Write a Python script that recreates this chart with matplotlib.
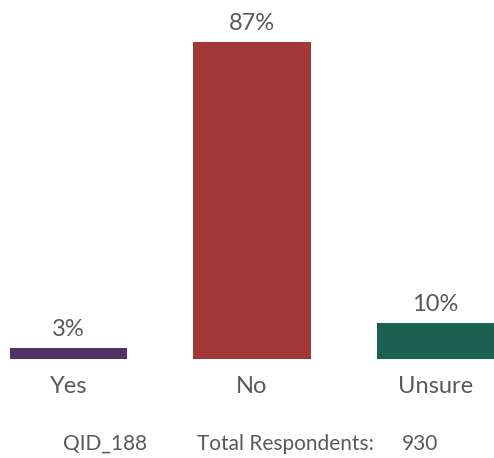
import matplotlib
matplotlib.use("Agg")
import matplotlib.pyplot as plt

categories = ["Yes", "No", "Unsure"]
values = [3, 87, 10]
colors = ["#533366", "#A33838", "#1A614F"]
label_texts = ["3%", "87%", "10%"]
qid = "QID_188"
total_label = "Total Respondents:"
total_n = "930"

W, H = 494, 458
fig = plt.figure(figsize=(W / 100, H / 100), dpi=100)
plt.rcParams['font.family'] = ['Lato', 'DejaVu Sans']
grey = "#595959"

bottom_px = 359
ax = fig.add_axes([0, 1 - bottom_px / H, 1, bottom_px / H])
spacing = 183.5
c0 = 68.5
ax.set_xlim(-c0 / spacing, (W - c0) / spacing)
ax.set_ylim(0, 87 * bottom_px / 317)
x = list(range(len(categories)))
bars = ax.bar(x, values, width=0.638, color=colors)
for b, t in zip(bars, label_texts):
    ax.annotate(t, (b.get_x() + b.get_width() / 2, b.get_height()),
                xytext=(0, 8.6), textcoords="offset points",
                ha="center", va="baseline", fontsize=17, color=grey)
ax.axis("off")
for xi, cat in zip(x, categories):
    ax.annotate(cat, (xi, 0), xytext=(0, -24.5), textcoords="offset points",
                ha="center", va="baseline", fontsize=17, color=grey)

fy = 1 - 450 / H
fig.text(63 / W, fy, qid, ha="left", va="baseline", fontsize=15, color=grey)
fig.text(197 / W, fy, total_label, ha="left", va="baseline", fontsize=15, color=grey)
fig.text(402 / W, fy, total_n, ha="left", va="baseline", fontsize=15, color=grey)

fig.savefig("out.png", dpi=100, facecolor="white")
